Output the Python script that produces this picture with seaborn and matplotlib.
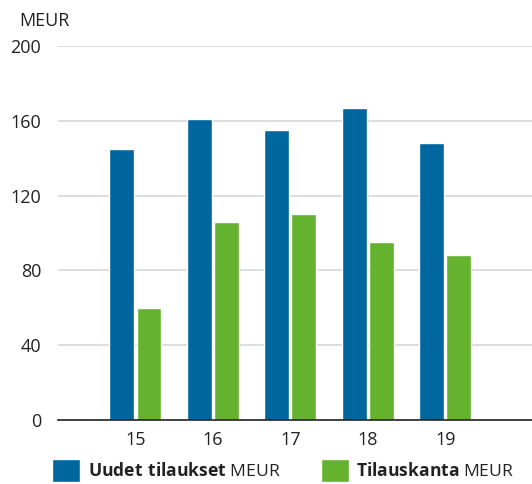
import pandas as pd
import seaborn as sns
import matplotlib.pyplot as plt
from matplotlib.patches import Patch

years = ['15', '16', '17', '18', '19']
uudet_tilaukset = [145, 161, 155, 167, 148]
tilauskanta = [60, 106, 110, 95, 88]
series_names = ['Uudet tilaukset', 'Tilauskanta']
colors = ['#00679e', '#64b22e']

df = pd.DataFrame({
    'year': years * 2,
    'value': uudet_tilaukset + tilauskanta,
    'series': [series_names[0]] * 5 + [series_names[1]] * 5,
})

sns.set_style('white')
plt.rcParams['font.family'] = ['Open Sans', 'DejaVu Sans']
plt.rcParams['mathtext.fontset'] = 'custom'
plt.rcParams['mathtext.bf'] = 'Open Sans:bold'
plt.rcParams['mathtext.rm'] = 'Open Sans'

fig = plt.figure(figsize=(5.32, 4.84), dpi=100)
ax = fig.add_axes([0.109, 0.132, 0.891, 0.773])

sns.barplot(data=df, x='year', y='value', hue='series', palette=colors,
            width=0.7, gap=0.08, saturation=1, legend=False, ax=ax)

ax.set_ylim(0, 200)
ax.set_xlim(-1, 5.12)
ax.set_yticks([0, 40, 80, 120, 160, 200])
ax.yaxis.grid(True, color='#dddddd', linewidth=1.4)
ax.set_axisbelow(True)
for s in ['top', 'right', 'left']:
    ax.spines[s].set_visible(False)
ax.spines['bottom'].set_color('#222222')
ax.spines['bottom'].set_linewidth(1.2)
ax.tick_params(axis='both', length=0, labelsize=13, colors='#222222')
ax.tick_params(axis='y', pad=12)
ax.tick_params(axis='x', pad=8)
ax.set_xlabel('')
ax.set_ylabel('')

fig.text(0.036, 0.957, 'MEUR', fontsize=13, color='#222222', va='center')

handles = [Patch(facecolor=c) for c in colors]
labels = [r'$\bf{Uudet\ tilaukset}$ MEUR', r'$\bf{Tilauskanta}$ MEUR']
fig.legend(handles, labels, loc='lower left', bbox_to_anchor=(0.068, -0.028),
           ncol=2, frameon=False, fontsize=12.6, handlelength=1.6,
           handleheight=1.6, handletextpad=0.45, columnspacing=2.3,
           labelcolor='#222222')

plt.savefig('out.png', dpi=100)
